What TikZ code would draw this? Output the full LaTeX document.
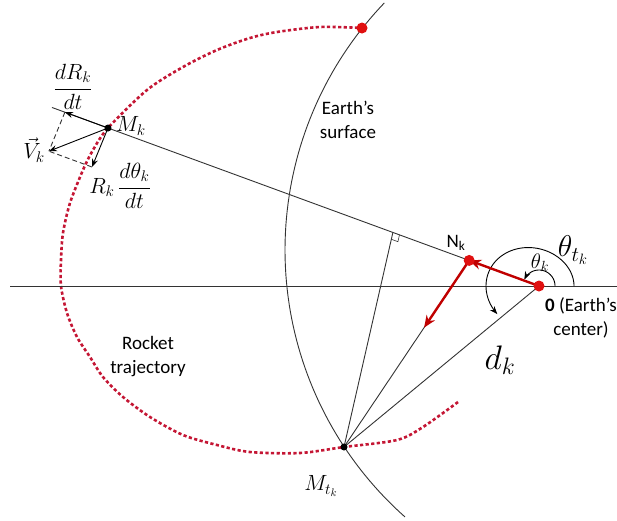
\RequirePackage{fix-cm}
\documentclass[tikz,border=0pt]{standalone}
\usepackage{amsmath}
\usepackage{fontspec}
\setsansfont{Carlito}
\usepackage{xcolor}
\usepackage{tikz}
\usetikzlibrary{arrows.meta, calc}
\definecolor{trajred}{RGB}{196,22,52}
\definecolor{arrowred}{RGB}{192,0,0}
\definecolor{dotred}{RGB}{224,16,16}
\tikzset{
  guide/.style={
    draw=black!80,
    line width=0.9pt
  },
  arrow/.style={
    line width=0.9pt,
    ->,
    >={Stealth[length=8pt, width=6pt]}
  },
  redarrow/.style={
    draw=arrowred,
    line width=2.4pt,
    ->,
    >={Stealth[length=12pt, width=10pt]}
  },
  trajectory/.style={
    draw=trajred,
    line width=2.6pt,
    dash pattern=on 3.2pt off 2.4pt
  },
  blackdot/.style={circle, fill=black, inner sep=0pt, minimum size=7pt},
  reddot/.style={circle, fill=dotred, inner sep=0pt, minimum size=11pt},
  txt/.style={font=\sffamily\fontsize{19}{24}\selectfont, align=center, inner sep=0pt},
  mathlbl/.style={font=\fontsize{22}{26}\selectfont, inner sep=0pt}
}

\begin{document}
\begin{tikzpicture}[x=1pt, y=-1pt]
\useasboundingbox (0,0) rectangle (617,520);

% Points
\coordinate (O) at (539,286);
\coordinate (Mk) at (108,128);
\coordinate (Mt) at (344,447);
\coordinate (Top) at (362,28);
\coordinate (Hl) at (10,286);
\coordinate (Hr) at (617,286);
\coordinate (Nk) at ($(O)!0.162!(Mk)$);
\coordinate (F) at ($(O)!0.339!(Mk)$);
\coordinate (Mkend) at ($(O)!1.13!(Mk)$);
\coordinate (dR) at ($(O)!1.1!(Mk)$);
\coordinate (Rt) at (92,167);
\coordinate (V) at ($(dR)+(Rt)-(Mk)$);

% Earth's surface
\draw[guide] plot[domain=131.6:223.8, samples=80] ({642+357*cos(\x)}, {250+357*sin(\x)});

% Rocket trajectory
\draw[trajectory] plot[smooth] coordinates {(458,402) (423,427) (397,440) (344,447)
  (300,453) (250,452) (217,445) (183,435) (150,417) (123,397) (103,377) (90,357)
  (77,337) (67,313) (61,286) (61,260) (63,233) (70,203) (83,170) (93,150) (108,128)
  (147,90) (183,67) (217,50) (250,38) (277,32) (320,27) (362,28)};

% Lines
\draw[guide] (Hl) -- (Hr);
\draw[guide] (O) -- (Mkend);
\draw[guide] (Mt) -- (F);
\draw[guide] (Mt) -- (Nk);
\draw[guide] (Mt) -- (O);
\coordinate (Fa) at ($(F)!7pt!(O)$);
\coordinate (Fb) at ($(F)!7pt!(Mt)$);
\draw[guide, line width=0.6pt] (Fa) -- ($(Fa)+(Fb)-(F)$) -- (Fb);

% Angles
\draw[arrow] plot[domain=0:156, samples=40] ({539+16*cos(\x)}, {286-16*sin(\x)});
\draw[arrow] plot[domain=0:222, samples=80] ({530+44*cos(\x)}, {286-(36+6*\x/222)*sin(\x)});

% Velocity
\draw[arrow] (Mk) -- (dR);
\draw[arrow] (Mk) -- (Rt);
\draw[arrow] (Mk) -- (V);
\draw[guide, dash pattern=on 5pt off 3pt] (dR) -- (V);
\draw[guide, dash pattern=on 5pt off 3pt] (Rt) -- (V);

% Red arrows
\draw[redarrow] (O) -- (Nk);
\draw[redarrow] (Nk) -- ($(Nk)!0.36!(Mt)$);

% Dots
\node[reddot] (dotO) at (O) {};
\node[reddot] (dotNk) at (Nk) {};
\node[reddot] (dotTop) at (Top) {};
\node[blackdot] (dotMk) at (Mk) {};
\node[blackdot] (dotMt) at (Mt) {};

% Labels
\node[mathlbl] (lblMk) at (131,126) {$M_k$};
\node[mathlbl] (lblMt) at (321,486) {$M_{t_k}$};
\node[mathlbl] (lblV) at (34,150) {$\vec{V}_k$};
\node[mathlbl] (lbldR) at (73,87) {$\dfrac{dR_k}{dt}$};
\node[mathlbl] (lblRt) at (120,186) {$R_k\,\dfrac{d\theta_k}{dt}$};
\node[mathlbl, font=\fontsize{21}{24}\selectfont] (lblth) at (540,263) {$\theta_k$};
\node[mathlbl, font=\fontsize{30}{34}\selectfont] (lblthT) at (573,250) {$\theta_{t_k}$};
\node[mathlbl, font=\fontsize{34}{38}\selectfont] (lbldk) at (500,360) {$d_k$};
\node[txt] (lblNk) at (456,243) {N\textsubscript{k}};
\node[txt] (lblEarth) at (348,120) {Earth’s\\surface};
\node[txt] (lblRocket) at (148,357) {Rocket\\trajectory};
\node[txt] (lblO) at (581,318) {\textbf{0} (Earth’s\\center)};
\end{tikzpicture}
\end{document}
